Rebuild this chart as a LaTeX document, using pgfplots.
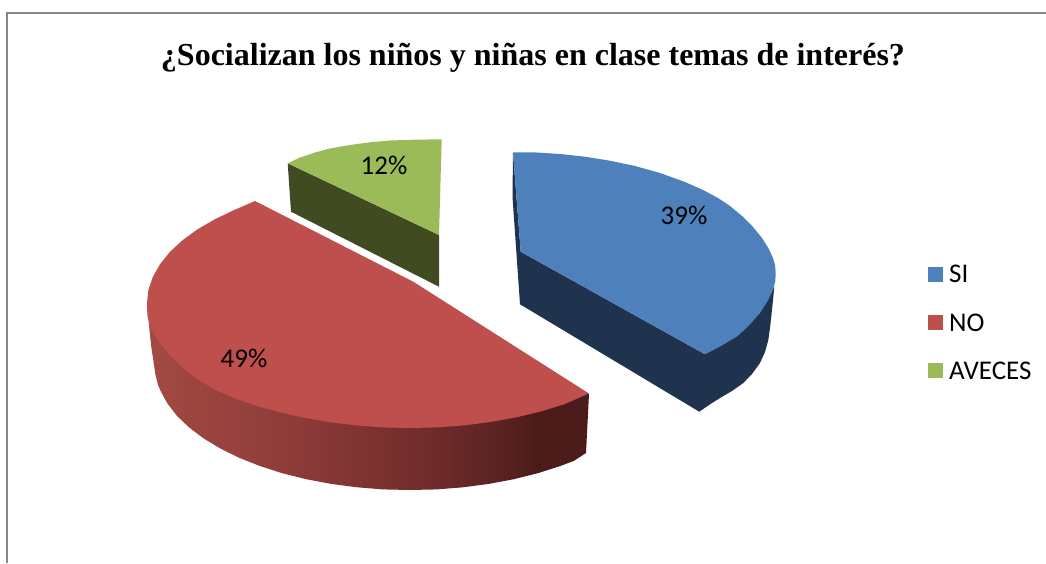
\documentclass[border=0pt]{standalone}
\usepackage{pgfplots}
\pgfplotsset{compat=1.18}
\usepackage{fontspec}
\setmainfont{Carlito}
\newfontfamily\titlefont{Liberation Serif}
\definecolor{bluetop}{HTML}{4E80BC}
\definecolor{blueside}{HTML}{1F334E}
\definecolor{redtop}{HTML}{BE4F4C}
\definecolor{greentop}{HTML}{9BBB59}
\definecolor{greenside}{HTML}{404B21}
\definecolor{framecol}{HTML}{868686}
\definecolor{rs0}{HTML}{A34A43}
\definecolor{rs1}{HTML}{8D3B38}
\definecolor{rs2}{HTML}{6E2A2A}
\definecolor{rs3}{HTML}{5A2222}
\definecolor{rs4}{HTML}{4B1C1A}
\pgfdeclarehorizontalshading{redside}{100bp}{color(0bp)=(rs0); color(25bp)=(rs0); color(42bp)=(rs1); color(58bp)=(rs2); color(65bp)=(rs3); color(69bp)=(rs4); color(75bp)=(rs4); color(100bp)=(rs4)}
\begin{document}
\begin{tikzpicture}
\useasboundingbox (0,0) rectangle (1046pt,563pt);
\begin{axis}[
  at={(0,0)}, anchor=south west,
  width=1046pt, height=563pt, scale only axis,
  xmin=0, xmax=1046, ymin=0, ymax=563, y dir=reverse,
  hide axis, clip=false, no markers,
]
% frame
\addplot[framecol, line width=1.8pt] coordinates {(7,563) (7,13) (1046,13)};
% green side and top
\addplot[fill=greenside, draw=none] coordinates {(287.7,163.3) (291,211.7) (439,286.7) (439,235)} -- cycle;
\addplot[fill=greentop, draw=none] coordinates {(287.7,163.3) (300,157.5) (315,152.5) (330,148.5) (350,145) (370,142.3) (390,140.5) (415,139.7) (441.7,139.3) (439,235)} -- cycle;
% blue side and top
\addplot[fill=blueside, draw=none] coordinates {(513,152.3) (512.5,197) (520,304.3) (699.3,411.7) (709,405) (720,398) (732,391) (743.3,383) (752,374) (760,363) (765,352) (768.3,340) (770,328) (772,310) (774.3,287) (705,354.3) (520.7,251.7)} -- cycle;
\addplot[fill=bluetop, draw=none] coordinates {(513,152.3) (535,152.4) (560,154) (585,156.7) (610,160.7) (635,166) (660,173) (685,182) (703,190) (718,198) (730,206) (742,216) (753,227) (762,238) (768.3,248) (773,258) (775,265) (775.7,273) (775.3,281) (773,290) (767,302) (760,313) (749,325.5) (736.7,336.7) (721,346) (705,354.3) (520.7,251.7)} -- cycle;
% red side (shaded) and top
\addplot[shading=redside, draw=none] coordinates {(147,303) (148.5,320) (151,345) (154,365) (155.5,375) (158,385) (160.6,391) (167.5,403.6) (177,415.9) (189.2,427.5) (203.7,438.5) (220.5,448.6) (239.4,457.9) (260.1,466.1) (282.5,473.3) (306.2,479.2) (331.2,483.9) (357,487.3) (383.2,489.4) (410,490) (436.8,489.4) (463,487.3) (488.8,483.9) (513.8,479.2) (537.5,473.3) (560,466.1) (574,460.8) (586,453) (589,394) (410,303)} -- cycle;
\addplot[fill=redtop, draw=none] coordinates {(255,201) (234,210.1) (214.6,219.4) (197.2,229.5) (182.2,240.5) (169.7,252.1) (159.9,264.4) (152.8,277) (148.4,289.9) (147,303) (147.5,316) (150.5,328) (159,342) (169.7,355) (182.2,367) (197.2,379) (214.6,389.5) (234,398) (255.4,405.5) (278.5,412) (303,417.5) (328.7,422) (355.3,425.3) (382.4,427.4) (410,428) (437.6,427.4) (464.7,425.3) (491.3,421.9) (517,417.2) (541.5,411.3) (564.6,404.1) (589,393.5) (413.3,281.7)} -- cycle;
% legend keys
\addplot[fill=bluetop, draw=none] coordinates {(928,267) (943,267) (943,282) (928,282)} -- cycle;
\addplot[fill=redtop, draw=none] coordinates {(928,315) (943,315) (943,330) (928,330)} -- cycle;
\addplot[fill=greentop, draw=none] coordinates {(928,363) (943,363) (943,378) (928,378)} -- cycle;
% text
\node[anchor=center, font={\titlefont\bfseries\fontsize{32}{36}\selectfont}] at (axis cs:533,57.5) {¿Socializan los niños y niñas en clase temas de interés?};
\node[font=\fontsize{27}{30}\selectfont] at (axis cs:684,215.5) {39\%};
\node[font=\fontsize{27}{30}\selectfont] at (axis cs:384,165.5) {12\%};
\node[font=\fontsize{27}{30}\selectfont] at (axis cs:244,358.5) {49\%};
\node[anchor=west, inner sep=0pt, font=\fontsize{27}{30}\selectfont] at (axis cs:949,274) {SI};
\node[anchor=west, inner sep=0pt, font=\fontsize{27}{30}\selectfont] at (axis cs:949,323) {NO};
\node[anchor=west, inner sep=0pt, font=\fontsize{27}{30}\selectfont] at (axis cs:949,371) {AVECES};
\end{axis}
\end{tikzpicture}
\end{document}
